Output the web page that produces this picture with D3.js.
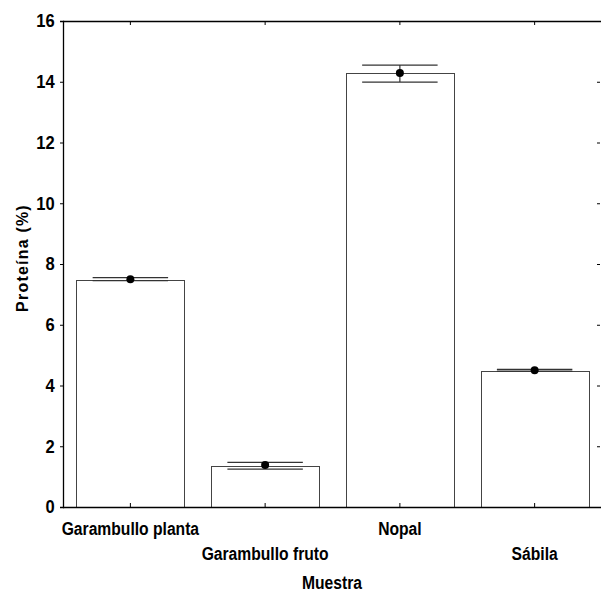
<!DOCTYPE html>
<html>
<head>
<meta charset="utf-8">
<script src="https://cdn.jsdelivr.net/npm/d3@7"></script>
<style>
  body { margin: 0; background: #fff; }
  text { font-family: "Liberation Sans", Arial, sans-serif; font-weight: bold; }
</style>
</head>
<body>
<div id="chart"></div>
<script>
// data
const categories = ["Garambullo planta", "Garambullo fruto", "Nopal", "Sábila"];
const barValues = [7.47, 1.35, 14.29, 4.48];
const meanValues = [7.5, 1.38, 14.29, 4.5];
const errLow = [7.45, 1.25, 13.99, 4.47];
const errHigh = [7.55, 1.47, 14.55, 4.53];
const yTicks = [0, 2, 4, 6, 8, 10, 12, 14, 16];

const width = 601, height = 595;
const margin = { top: 21, right: -1, bottom: 88, left: 63 };
const narrow = 0.87; // squeeze to look like a condensed face

const svg = d3.select("#chart").append("svg")
    .attr("width", width)
    .attr("height", height);

const x = d3.scaleBand()
    .domain(categories)
    .range([margin.left, width - margin.right])
    .paddingInner(0.2)
    .paddingOuter(0.1);

const y = d3.scaleLinear()
    .domain([0, 16])
    .range([height - margin.bottom, margin.top]);

const rows = categories.map((c, i) => ({
    name: c, bar: barValues[i], mean: meanValues[i], lo: errLow[i], hi: errHigh[i]
}));

// bars
svg.selectAll("rect.bar")
    .data(rows)
    .join("rect")
    .attr("class", "bar")
    .attr("x", d => Math.round(x(d.name)) + 0.5)
    .attr("y", d => Math.round(y(d.bar)) + 0.5)
    .attr("width", Math.round(x.bandwidth()))
    .attr("height", d => y(0) - Math.round(y(d.bar)))
    .attr("fill", "#fff")
    .attr("stroke", "#444")
    .attr("stroke-width", 1);

// error bars
const capHalf = x.bandwidth() * 0.35;
const err = svg.append("g").attr("stroke", "#333").attr("stroke-width", 1.2);
rows.forEach(d => {
    const cx = x(d.name) + x.bandwidth() / 2;
    err.append("line")
        .attr("x1", cx).attr("x2", cx)
        .attr("y1", y(d.hi)).attr("y2", y(d.lo));
    [d.lo, d.hi].forEach(v => {
        err.append("line")
            .attr("x1", cx - capHalf).attr("x2", cx + capHalf)
            .attr("y1", y(v)).attr("y2", y(v));
    });
});

svg.selectAll("circle.mean")
    .data(rows)
    .join("circle")
    .attr("class", "mean")
    .attr("cx", d => x(d.name) + x.bandwidth() / 2)
    .attr("cy", d => y(d.mean))
    .attr("r", 4)
    .attr("fill", "#000");

// left axis
const yAxis = d3.axisLeft(y).tickValues(yTicks).tickSize(3).tickPadding(6);
const gy = svg.append("g")
    .attr("transform", `translate(${margin.left},0)`)
    .call(yAxis);
gy.select(".domain").attr("stroke", "#000").attr("stroke-width", 1.3);
gy.selectAll("text")
    .attr("font-size", 18)
    .attr("fill", "#000")
    .attr("transform", "scale(0.92,1)");

// right side ticks only
const gr = svg.append("g")
    .attr("transform", `translate(${width - 1},0)`)
    .call(d3.axisRight(y).tickValues(yTicks.slice(1, -1)).tickSize(-3).tickFormat(""));
gr.select(".domain").remove();

// bottom axis
const gx = svg.append("g")
    .attr("transform", `translate(0,${y(0)})`)
    .call(d3.axisBottom(x).tickSize(-4).tickFormat(""));
gx.select(".domain").attr("stroke", "#000").attr("stroke-width", 1.3).attr("d", `M${margin.left},0.5H${width}`);

// top axis
const gt = svg.append("g")
    .attr("transform", `translate(0,${y(16)})`)
    .call(d3.axisTop(x).tickSize(-4).tickFormat(""));
gt.select(".domain").attr("stroke", "#000").attr("stroke-width", 1.3).attr("d", `M${margin.left},0.5H${width}`);

// staggered category labels
svg.selectAll("text.cat")
    .data(categories)
    .join("text")
    .attr("class", "cat")
    .attr("transform", (d, i) =>
        `translate(${x(d) + x.bandwidth() / 2},${i % 2 === 0 ? 535 : 560}) scale(${narrow},1)`)
    .attr("text-anchor", "middle")
    .attr("font-size", 18)
    .text(d => d);

svg.append("text")
    .attr("transform", `translate(332,589) scale(${narrow},1)`)
    .attr("text-anchor", "middle")
    .attr("font-size", 18)
    .text("Muestra");

svg.append("text")
    .attr("transform", `translate(28,258) rotate(-90)`)
    .attr("text-anchor", "middle")
    .attr("font-size", 16)
    .attr("letter-spacing", 1.2)
    .text("Proteína (%)");
</script>
</body>
</html>
